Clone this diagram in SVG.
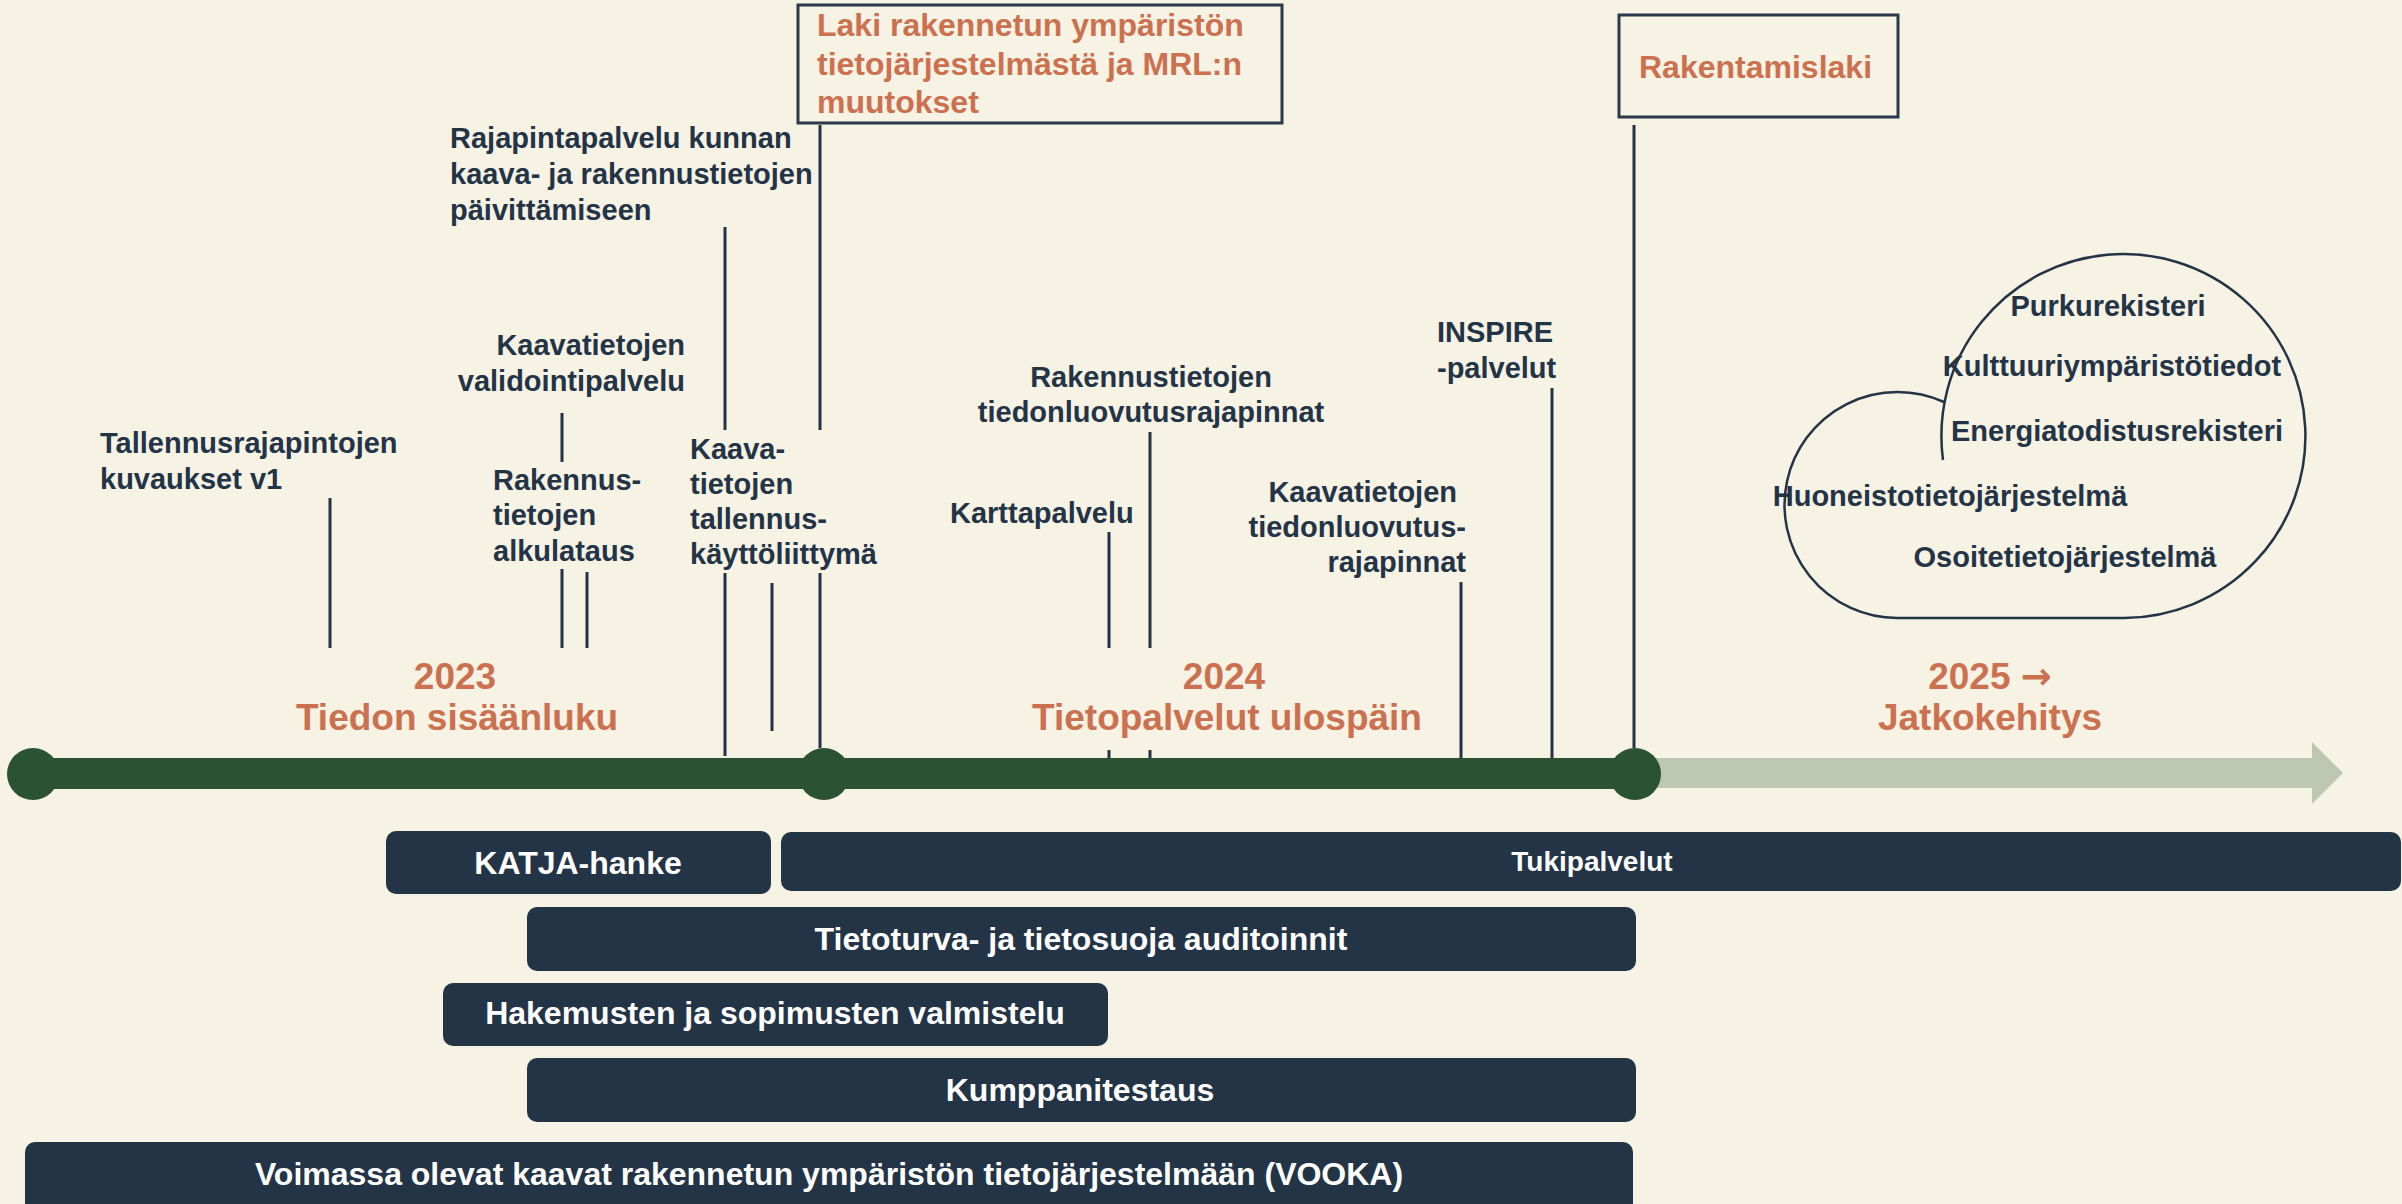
<svg xmlns="http://www.w3.org/2000/svg" width="2402" height="1204" viewBox="0 0 2402 1204">
  <style>
    .lbl { font-family: "Liberation Sans", Arial, sans-serif; font-weight: bold; font-size: 29px; fill: #243447; }
    .law { font-family: "Liberation Sans", Arial, sans-serif; font-weight: bold; font-size: 32px; fill: #CC7150; }
    .year { font-family: "Liberation Sans", Arial, sans-serif; font-weight: bold; font-size: 37px; fill: #CC7150; text-anchor: middle; }
    .arrowglyph { font-family: "DejaVu Sans", sans-serif; font-weight: bold; }
    .bartxt { font-family: "Liberation Sans", Arial, sans-serif; font-weight: bold; font-size: 32px; fill: #FFFFFF; text-anchor: middle; }
    .bar { fill: #243447; }
    .lawbox { fill: none; stroke: #2A3A4C; stroke-width: 3; }
    .tick { stroke: #243447; stroke-width: 3; fill: none; }
    .dot { fill: #2C5234; }
  </style>

  <!-- background -->
  <rect x="0" y="0" width="2402" height="1204" fill="#F6F2E4"/>

  <!-- timeline -->
  <g id="timeline">
    <polygon points="1640,758 2312,758 2312,742 2343,773 2312,804 2312,788 1640,788" fill="#BDC7B2"/>
    <rect x="33" y="758" width="1602" height="31" fill="#2C5234"/>
    <circle class="dot" cx="33" cy="774" r="26"/>
    <circle class="dot" cx="824" cy="774" r="26"/>
    <circle class="dot" cx="1635" cy="774" r="26"/>
  </g>

  <!-- period headings -->
  <g id="period-2023">
    <text class="year" x="455" y="689">2023</text>
    <text class="year" x="457" y="730">Tiedon sisäänluku</text>
  </g>
  <g id="period-2024">
    <text class="year" x="1224" y="689">2024</text>
    <text class="year" x="1227" y="730">Tietopalvelut ulospäin</text>
  </g>
  <g id="period-2025">
    <text class="year" x="1990" y="689">2025 <tspan class="arrowglyph">→</tspan></text>
    <text class="year" x="1990" y="730">Jatkokehitys</text>
  </g>

  <!-- connectors: milestone ticks -->
  <g id="connectors">
    <line class="tick" x1="330" y1="498" x2="330" y2="648"/>
    <line class="tick" x1="562" y1="413" x2="562" y2="462"/>
    <line class="tick" x1="562" y1="569" x2="562" y2="648"/>
    <line class="tick" x1="587" y1="572" x2="587" y2="648"/>
    <line class="tick" x1="725" y1="227" x2="725" y2="430"/>
    <line class="tick" x1="725" y1="573" x2="725" y2="756"/>
    <line class="tick" x1="772" y1="583" x2="772" y2="731"/>
    <line class="tick" x1="820" y1="125" x2="820" y2="430"/>
    <line class="tick" x1="820" y1="573" x2="820" y2="748"/>
    <line class="tick" x1="1109" y1="532" x2="1109" y2="648"/>
    <line class="tick" x1="1109" y1="750" x2="1109" y2="758"/>
    <line class="tick" x1="1150" y1="432" x2="1150" y2="648"/>
    <line class="tick" x1="1150" y1="750" x2="1150" y2="758"/>
    <line class="tick" x1="1461" y1="582" x2="1461" y2="758"/>
    <line class="tick" x1="1552" y1="388" x2="1552" y2="758"/>
    <line class="tick" x1="1634" y1="125" x2="1634" y2="748"/>
  </g>

  <!-- milestone labels -->
  <g id="m-tallennusrajapinnat">
    <text class="lbl" x="100" y="453">Tallennusrajapintojen</text>
    <text class="lbl" x="100" y="489">kuvaukset v1</text>
  </g>
  <g id="m-validointi">
    <text class="lbl" x="685" y="355" text-anchor="end">Kaavatietojen</text>
    <text class="lbl" x="685" y="391" text-anchor="end">validointipalvelu</text>
  </g>
  <g id="m-alkulataus">
    <text class="lbl" x="493" y="490">Rakennus-</text>
    <text class="lbl" x="493" y="525">tietojen</text>
    <text class="lbl" x="493" y="561">alkulataus</text>
  </g>
  <g id="m-rajapintapalvelu">
    <text class="lbl" x="450" y="148">Rajapintapalvelu kunnan</text>
    <text class="lbl" x="450" y="184">kaava- ja rakennustietojen</text>
    <text class="lbl" x="450" y="220">päivittämiseen</text>
  </g>
  <g id="m-kayttoliittyma">
    <text class="lbl" x="690" y="459">Kaava-</text>
    <text class="lbl" x="690" y="494">tietojen</text>
    <text class="lbl" x="690" y="529">tallennus-</text>
    <text class="lbl" x="690" y="564">käyttöliittymä</text>
  </g>
  <g id="m-karttapalvelu">
    <text class="lbl" x="950" y="523">Karttapalvelu</text>
  </g>
  <g id="m-rakennus-rajapinnat">
    <text class="lbl" x="1151" y="387" text-anchor="middle">Rakennustietojen</text>
    <text class="lbl" x="1151" y="422" text-anchor="middle">tiedonluovutusrajapinnat</text>
  </g>
  <g id="m-kaava-rajapinnat">
    <text class="lbl" x="1457" y="502" text-anchor="end">Kaavatietojen</text>
    <text class="lbl" x="1466" y="537" text-anchor="end">tiedonluovutus-</text>
    <text class="lbl" x="1466" y="572" text-anchor="end">rajapinnat</text>
  </g>
  <g id="m-inspire">
    <text class="lbl" x="1437" y="342">INSPIRE</text>
    <text class="lbl" x="1437" y="378">-palvelut</text>
  </g>

  <!-- legislation boxes -->
  <g id="law-rakennettu">
    <rect class="lawbox" x="798" y="5" width="484" height="118"/>
    <text class="law" x="817" y="36">Laki rakennetun ympäristön</text>
    <text class="law" x="817" y="75">tietojärjestelmästä ja MRL:n</text>
    <text class="law" x="817" y="113">muutokset</text>
  </g>
  <g id="law-rakentamislaki">
    <rect class="lawbox" x="1619" y="15" width="279" height="102"/>
    <text class="law" x="1639" y="78">Rakentamislaki</text>
  </g>

  <!-- future registers cloud -->
  <g id="future-cloud">
    <path d="M 1943 460 A 182 182 0 1 1 2124 618 L 1897 618 A 113 113 0 1 1 1944 402" fill="none" stroke="#243447" stroke-width="2.5"/>
    <text class="lbl" x="2108" y="316" text-anchor="middle">Purkurekisteri</text>
    <text class="lbl" x="2112" y="376" text-anchor="middle">Kulttuuriympäristötiedot</text>
    <text class="lbl" x="2117" y="441" text-anchor="middle">Energiatodistusrekisteri</text>
    <text class="lbl" x="1950" y="506" text-anchor="middle">Huoneistotietojärjestelmä</text>
    <text class="lbl" x="2065" y="567" text-anchor="middle">Osoitetietojärjestelmä</text>
  </g>

  <!-- workstream bars -->
  <g id="bar-katja">
    <rect class="bar" x="386" y="831" width="385" height="63" rx="10"/>
    <text class="bartxt" x="578" y="874">KATJA-hanke</text>
  </g>
  <g id="bar-tukipalvelut">
    <rect class="bar" x="781" y="832" width="1620" height="59" rx="10"/>
    <text class="bartxt" x="1592" y="871" style="font-size:28px">Tukipalvelut</text>
  </g>
  <g id="bar-tietoturva">
    <rect class="bar" x="527" y="907" width="1109" height="64" rx="10"/>
    <text class="bartxt" x="1081" y="950">Tietoturva- ja tietosuoja auditoinnit</text>
  </g>
  <g id="bar-hakemukset">
    <rect class="bar" x="443" y="983" width="665" height="63" rx="10"/>
    <text class="bartxt" x="775" y="1024">Hakemusten ja sopimusten valmistelu</text>
  </g>
  <g id="bar-kumppanitestaus">
    <rect class="bar" x="527" y="1058" width="1109" height="64" rx="10"/>
    <text class="bartxt" x="1080" y="1101">Kumppanitestaus</text>
  </g>
  <g id="bar-vooka">
    <rect class="bar" x="25" y="1142" width="1608" height="72" rx="10"/>
    <text class="bartxt" x="829" y="1185">Voimassa olevat kaavat rakennetun ympäristön tietojärjestelmään (VOOKA)</text>
  </g>
</svg>
